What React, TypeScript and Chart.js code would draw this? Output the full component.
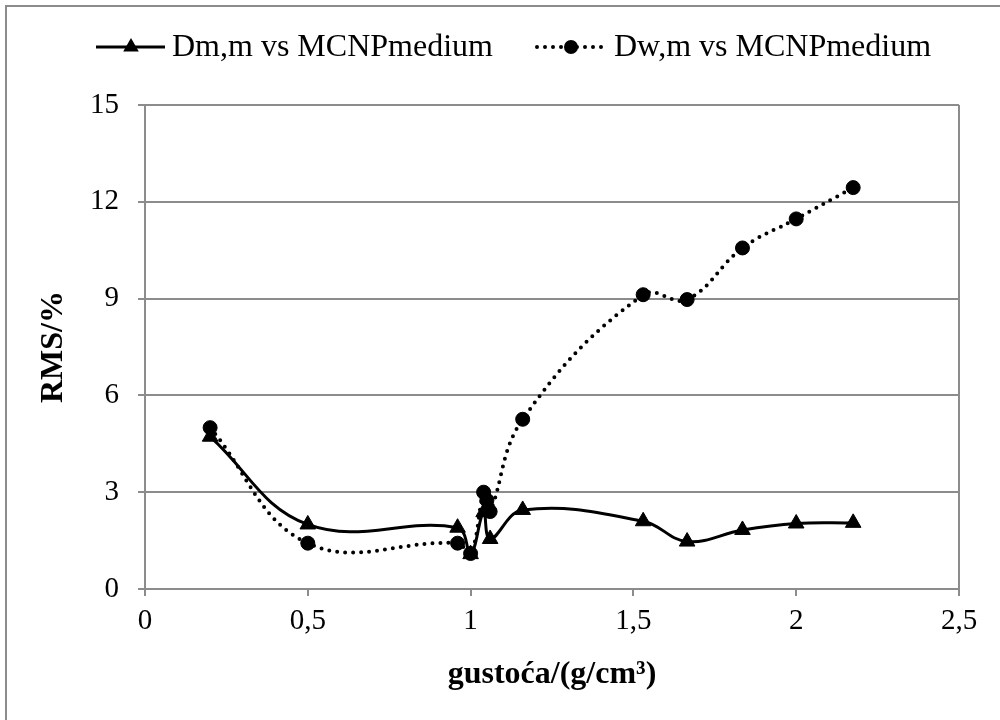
import React, { useEffect, useRef } from 'react';
import { Chart, registerables } from 'chart.js';

Chart.register(...registerables);

// ---- Data ----
const densityDm = [0.2, 0.5, 0.96, 1.0, 1.04, 1.06, 1.16, 1.53, 1.665, 1.835, 2.0, 2.175];
const rmsDm = [4.72, 2.0, 1.9, 1.08, 2.38, 1.55, 2.45, 2.1, 1.47, 1.83, 2.03, 2.05];

const densityDw = [0.2, 0.5, 0.96, 1.0, 1.04, 1.05, 1.06, 1.16, 1.53, 1.665, 1.835, 2.0, 2.175];
const rmsDw = [5.0, 1.42, 1.42, 1.1, 3.0, 2.75, 2.4, 5.26, 9.12, 8.97, 10.57, 11.47, 12.44];

const seriesLabels = ['Dm,m vs MCNPmedium', 'Dw,m vs MCNPmedium'];
const xTickValues = [0, 0.5, 1, 1.5, 2, 2.5];
const yTickValues = [0, 3, 6, 9, 12, 15];
const xTitle = 'gustoća/(g/cm³)';
const yTitle = 'RMS/%';

const FONT = '"Liberation Serif", "Times New Roman", serif';
const GRID = '#8c8c8c';

function drawMarker(ctx: CanvasRenderingContext2D, style: string, r: number, x: number, y: number) {
  ctx.beginPath();
  if (style === 'triangle') {
    let a = 0;
    ctx.moveTo(x + Math.sin(a) * r, y - Math.cos(a) * r);
    a += (2 * Math.PI) / 3;
    ctx.lineTo(x + Math.sin(a) * r, y - Math.cos(a) * r);
    a += (2 * Math.PI) / 3;
    ctx.lineTo(x + Math.sin(a) * r, y - Math.cos(a) * r);
    ctx.closePath();
  } else {
    ctx.arc(x, y, r, 0, Math.PI * 2);
  }
  ctx.fill();
}

const legendPlugin = {
  id: 'lineMarkerLegend',
  afterDraw(chart: any, _args: any, opts: any) {
    const ctx = chart.ctx;
    const items = opts.items || [];
    items.forEach((it: any, i: number) => {
      const ds = chart.data.datasets[i];
      const y = opts.y;
      ctx.save();
      ctx.strokeStyle = ds.borderColor;
      ctx.lineWidth = ds.borderWidth;
      ctx.lineCap = ds.borderCapStyle || 'butt';
      ctx.setLineDash(ds.borderDash || []);
      ctx.beginPath();
      ctx.moveTo(it.x0, y);
      ctx.lineTo(it.x1, y);
      ctx.stroke();
      ctx.restore();

      ctx.save();
      ctx.fillStyle = '#000';
      drawMarker(ctx, ds.pointStyle, ds.pointRadius, it.marker, y);
      ctx.restore();

      ctx.save();
      ctx.fillStyle = '#000';
      ctx.font = `${opts.fontSize}px ${FONT}`;
      ctx.textBaseline = 'middle';
      ctx.textAlign = 'left';
      ctx.fillText(ds.label, it.text, y + 1);
      ctx.restore();
    });
  },
};

const framePlugin = {
  id: 'outerFrame',
  beforeDraw(chart: any) {
    const ctx = chart.ctx;
    ctx.save();
    ctx.fillStyle = '#ffffff';
    ctx.fillRect(0, 0, chart.width, chart.height);
    ctx.strokeStyle = GRID;
    ctx.lineWidth = 2;
    ctx.beginPath();
    ctx.moveTo(6, chart.height);
    ctx.lineTo(6, 6);
    ctx.lineTo(chart.width, 6);
    ctx.stroke();
    ctx.restore();
  },
};

export default function App() {
  const ref = useRef<HTMLCanvasElement | null>(null);

  useEffect(() => {
    if (!ref.current) return;
    const legendItems = [
      { x0: 96, x1: 165, marker: 131, text: 172 },
      { x0: 537, x1: 604, marker: 571, text: 614 },
    ];
    const chart = new Chart(ref.current, {
      type: 'line',
      data: {
        datasets: [
          {
            label: seriesLabels[0],
            data: densityDm.map((x, i) => ({ x, y: rmsDm[i] })),
            borderColor: '#000',
            backgroundColor: '#000',
            borderWidth: 3,
            tension: 0.4,
            pointStyle: 'triangle',
            pointRadius: 9,
            pointBackgroundColor: '#000',
            pointBorderColor: '#000',
            pointBorderWidth: 1,
            order: 1,
          },
          {
            label: seriesLabels[1],
            data: densityDw.map((x, i) => ({ x, y: rmsDw[i] })),
            borderColor: '#000',
            backgroundColor: '#000',
            borderWidth: 4,
            borderDash: [0, 8],
            borderCapStyle: 'round',
            tension: 0.4,
            pointStyle: 'circle',
            pointRadius: 7,
            pointBackgroundColor: '#000',
            pointBorderColor: '#000',
            pointBorderWidth: 1,
            order: 0,
          },
        ] as any,
      },
      options: {
        responsive: false,
        animation: false,
        devicePixelRatio: 1,
        layout: { padding: { top: 105, right: 41, bottom: 0, left: 0 } },
        plugins: {
          legend: { display: false },
          tooltip: { enabled: false },
          lineMarkerLegend: { items: legendItems, y: 47, fontSize: 32 },
        } as any,
        scales: {
          x: {
            type: 'linear',
            min: 0,
            max: 2.5,
            afterBuildTicks: (s: any) => {
              s.ticks = xTickValues.map((v) => ({ value: v }));
            },
            afterFit: (s: any) => {
              s.height = 131;
            },
            ticks: {
              color: '#000',
              font: { family: FONT, size: 29 },
              padding: 8,
              maxRotation: 0,
              callback: (v: any) => String(v).replace('.', ','),
            },
            grid: {
              color: (c: any) => (c.tick && c.tick.value === 2.5 ? GRID : 'rgba(0,0,0,0)'),
              tickColor: GRID,
              lineWidth: 2,
              tickLength: 7,
            },
            border: { display: true, color: GRID, width: 2 },
            title: {
              display: true,
              text: xTitle,
              color: '#000',
              font: { family: FONT, size: 32, weight: 'bold' },
              padding: { top: 0, bottom: 26 },
            },
          },
          y: {
            type: 'linear',
            min: 0,
            max: 15,
            afterBuildTicks: (s: any) => {
              s.ticks = yTickValues.map((v) => ({ value: v }));
            },
            afterFit: (s: any) => {
              s.width = 145;
            },
            ticks: {
              color: '#000',
              font: { family: FONT, size: 29 },
              padding: 19,
            },
            grid: {
              color: GRID,
              tickColor: GRID,
              lineWidth: 2,
              tickLength: 7,
            },
            border: { display: true, color: GRID, width: 2 },
            title: {
              display: true,
              text: yTitle,
              color: '#000',
              font: { family: FONT, size: 32, weight: 'bold' },
              padding: { top: 35, bottom: 0 },
            },
          },
        },
      } as any,
      plugins: [framePlugin, legendPlugin as any],
    });
    return () => chart.destroy();
  }, []);

  return (
    <div style={{ position: 'absolute', left: 0, top: 0, width: 1000, height: 720, background: '#fff' }}>
      <canvas ref={ref} width={1000} height={720} style={{ display: 'block' }} />
    </div>
  );
}
